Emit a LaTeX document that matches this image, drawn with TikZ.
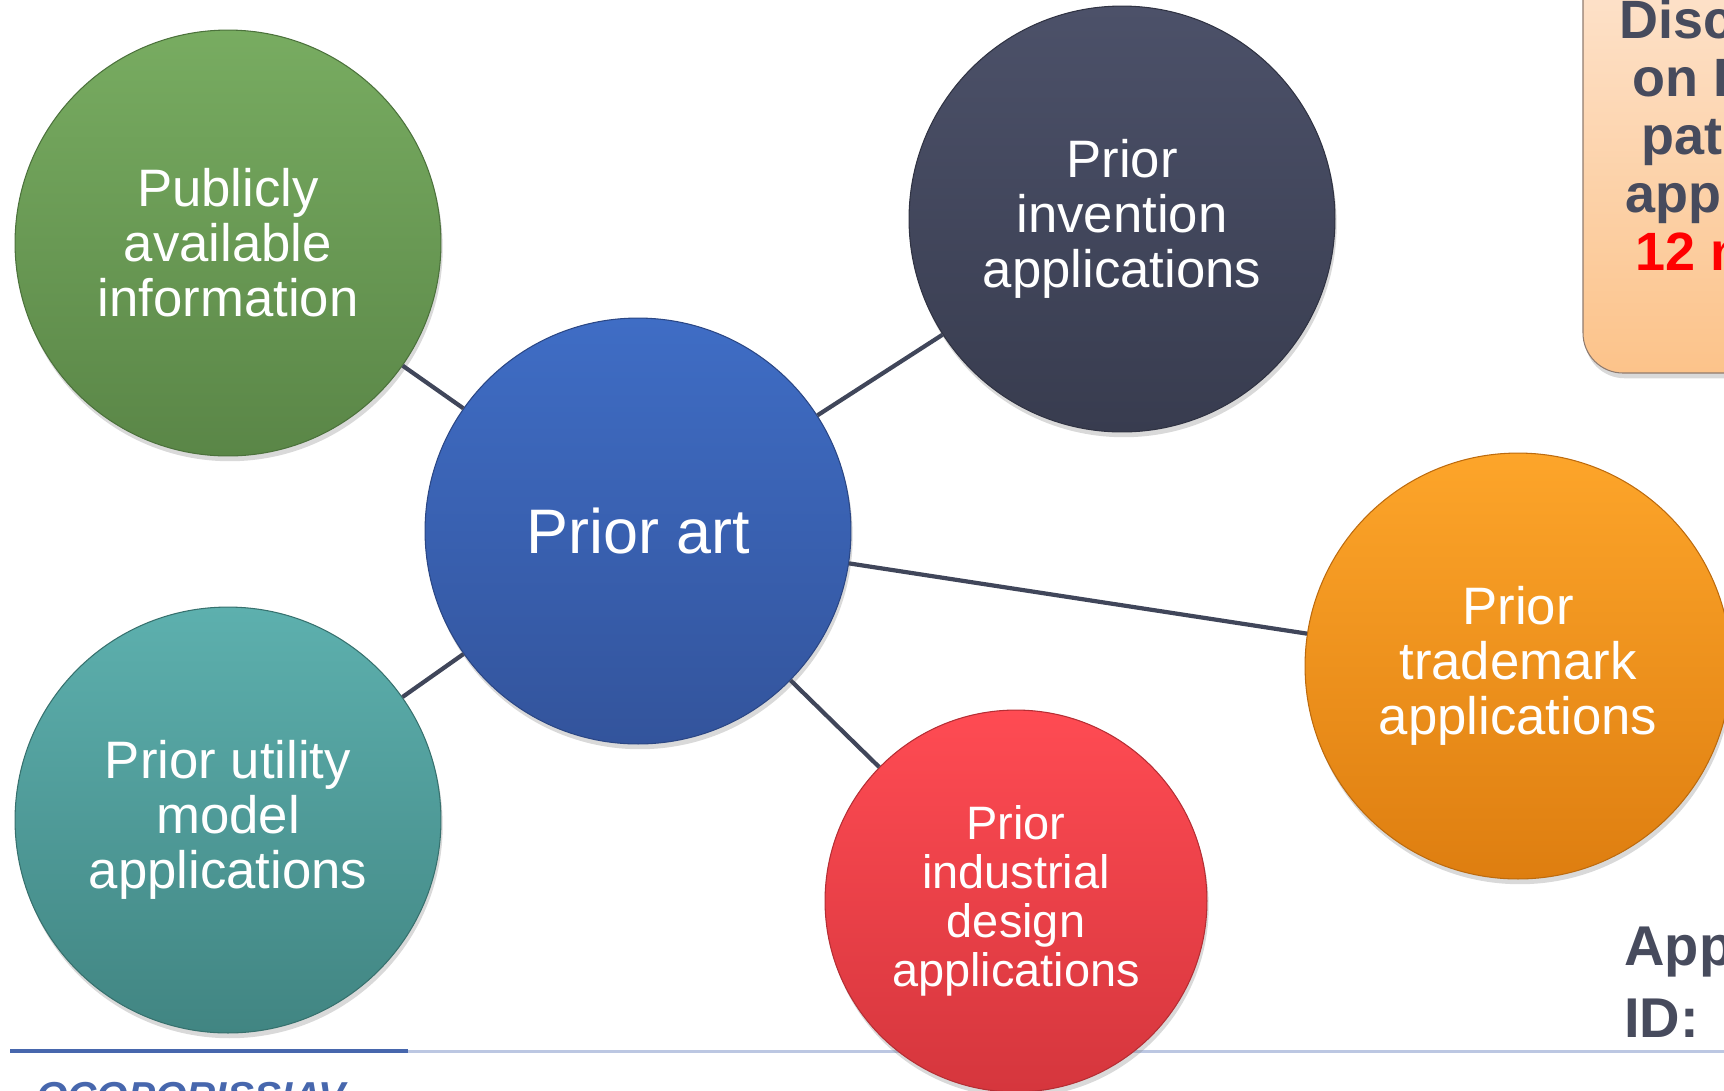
\documentclass[tikz,border=0pt]{standalone}
\usepackage{fontspec}
\setmainfont{Liberation Sans}
\usetikzlibrary{shadows}

\definecolor{greentop}{HTML}{78AC61}
\definecolor{greenbot}{HTML}{5A8647}
\definecolor{navytop}{HTML}{4C5169}
\definecolor{navybot}{HTML}{383C4F}
\definecolor{bluetop}{HTML}{3F6DC5}
\definecolor{bluebot}{HTML}{33549C}
\definecolor{orangetop}{HTML}{FDA52A}
\definecolor{orangebot}{HTML}{DE7E10}
\definecolor{tealtop}{HTML}{5DB0AE}
\definecolor{tealbot}{HTML}{418582}
\definecolor{redtop}{HTML}{FF4B53}
\definecolor{redbot}{HTML}{D5363D}
\definecolor{linkgray}{HTML}{40465A}
\definecolor{ruledark}{HTML}{4767AD}
\definecolor{rulelight}{HTML}{BCC7E2}
\definecolor{peachtop}{HTML}{FDE5D1}
\definecolor{peachbot}{HTML}{FCC38A}
\definecolor{boxtext}{HTML}{474B5D}

\tikzset{
  bubble/.style n args={2}{circle, inner sep=0pt, align=center, text=white,
    top color=#1, bottom color=#2, draw=#2!85!black, line width=0.6pt,
    drop shadow={shadow xshift=1pt, shadow yshift=-3pt, opacity=0.3}},
  bubbletext/.style={font=\fontsize{30}{31.3}\selectfont},
  link/.style={draw=linkgray, line width=2.4pt},
  boxline/.style={anchor=base west, inner sep=0pt, text=boxtext,
    font=\bfseries\fontsize{30.7}{33}\selectfont},
}

\begin{document}
\begin{tikzpicture}[x=0.02cm, y=-0.02cm]
  \useasboundingbox (0,0) rectangle (1724,1090);
  \clip (0,0) rectangle (1724,1090);

  % footer rule and logo
  \draw[rulelight, line width=1.7pt] (408,1051) -- (1724,1051);
  \draw[ruledark, line width=2.3pt] (10,1051) -- (408,1051);
  \node[anchor=base west, inner sep=0pt, text=ruledark,
    font=\bfseries\itshape\fontsize{23}{23}\selectfont] (logo) at (36,1110) {OCOPORISSIAV};

  % box at top right
  \path[draw=boxtext!60!peachbot, line width=0.6pt, top color=peachtop, bottom color=peachbot,
    rounded corners=0.8cm, drop shadow={shadow xshift=1pt, shadow yshift=-3pt, opacity=0.3}]
    (1583,-60) rectangle (1850,373);
  \node[boxline] (disc1) at (1619,38) {Disclosure};
  \node[boxline] (disc2) at (1632,96) {on Internet};
  \node[boxline] (disc3) at (1641,154) {patent};
  \node[boxline] (disc4) at (1625,212) {applications};
  \node[boxline, text=red] (disc5) at (1635,270) {12 months};

  \node[boxline, font=\bfseries\fontsize{31.9}{41}\selectfont] (appid1) at (1624,965) {Application};
  \node[boxline, font=\bfseries\fontsize{31.9}{41}\selectfont] (appid2) at (1624,1037) {ID:};

  % bubbles
  \node[bubble={greentop}{greenbot}, bubbletext, minimum size=8.52cm] (pub) at (228,243) {Publicly\\available\\information};
  \node[bubble={navytop}{navybot}, bubbletext, minimum size=8.52cm] (inv) at (1122,219) {Prior\\invention\\applications};
  \node[bubble={orangetop}{orangebot}, bubbletext, minimum size=8.52cm] (tm) at (1518,666) {Prior\\trademark\\applications};
  \node[bubble={tealtop}{tealbot}, bubbletext, minimum size=8.52cm] (um) at (228,820) {Prior utility\\model\\applications};
  \node[bubble={redtop}{redbot}, font=\fontsize{26.7}{27.9}\selectfont, minimum size=7.64cm] (ind) at (1016,901) {Prior\\industrial\\design\\applications};
  \node[bubble={bluetop}{bluebot}, font=\fontsize{35.8}{36}\selectfont, minimum size=8.52cm] (art) at (638,531) {Prior art};

  % links
  \draw[link] (art) -- (pub);
  \draw[link] (art) -- (inv);
  \draw[link] (art) -- (tm);
  \draw[link] (art) -- (um);
  \draw[link] (art) -- (ind);
\end{tikzpicture}
\end{document}
